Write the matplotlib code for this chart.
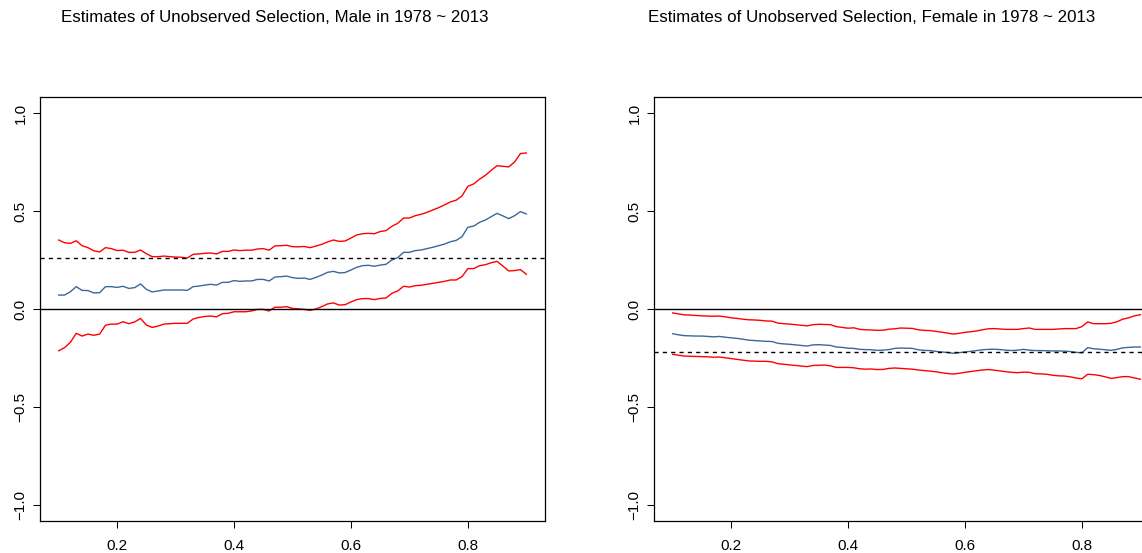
import numpy as np
import matplotlib
matplotlib.use('Agg')
from matplotlib import pyplot as plt

plt.rcParams['font.family'] = ['Liberation Sans', 'DejaVu Sans']

# quantiles 0.10 ... 0.90
q = np.linspace(0.10, 0.90, 81)

# male: upper bound, estimate, lower bound
male_hi = [0.352, 0.338, 0.335, 0.348, 0.323, 0.313, 0.297, 0.291, 0.313, 0.308,
           0.298, 0.300, 0.289, 0.289, 0.301, 0.282, 0.267, 0.267, 0.270, 0.267,
           0.265, 0.264, 0.260, 0.279, 0.281, 0.284, 0.286, 0.281, 0.294, 0.294,
           0.301, 0.298, 0.300, 0.300, 0.306, 0.308, 0.300, 0.322, 0.323, 0.325,
           0.318, 0.317, 0.319, 0.313, 0.321, 0.330, 0.342, 0.352, 0.345, 0.347,
           0.362, 0.378, 0.384, 0.386, 0.384, 0.395, 0.400, 0.422, 0.437, 0.464,
           0.464, 0.476, 0.483, 0.493, 0.505, 0.517, 0.531, 0.546, 0.555, 0.577,
           0.626, 0.638, 0.662, 0.682, 0.708, 0.731, 0.728, 0.725, 0.750, 0.793,
           0.796]
male_est = [0.071, 0.071, 0.088, 0.114, 0.095, 0.094, 0.082, 0.083, 0.114, 0.114,
            0.110, 0.116, 0.105, 0.109, 0.128, 0.100, 0.087, 0.092, 0.097, 0.097,
            0.097, 0.097, 0.095, 0.114, 0.117, 0.122, 0.126, 0.122, 0.136, 0.136,
            0.145, 0.141, 0.143, 0.143, 0.151, 0.151, 0.143, 0.163, 0.165, 0.168,
            0.160, 0.156, 0.158, 0.151, 0.161, 0.173, 0.187, 0.192, 0.184, 0.186,
            0.199, 0.213, 0.221, 0.223, 0.218, 0.224, 0.228, 0.250, 0.262, 0.289,
            0.289, 0.298, 0.301, 0.308, 0.315, 0.323, 0.331, 0.343, 0.350, 0.369,
            0.417, 0.423, 0.442, 0.454, 0.471, 0.488, 0.475, 0.461, 0.476, 0.497,
            0.485]
male_lo = [-0.213, -0.197, -0.170, -0.124, -0.138, -0.128, -0.134, -0.128, -0.083, -0.077,
           -0.077, -0.065, -0.075, -0.066, -0.048, -0.082, -0.094, -0.087, -0.077, -0.075,
           -0.073, -0.073, -0.073, -0.051, -0.043, -0.038, -0.036, -0.040, -0.024, -0.022,
           -0.014, -0.014, -0.014, -0.010, -0.002, -0.002, -0.010, 0.009, 0.009, 0.012,
           0.003, 0.001, -0.002, -0.007, 0.000, 0.012, 0.026, 0.031, 0.020, 0.022,
           0.036, 0.048, 0.053, 0.053, 0.048, 0.054, 0.056, 0.080, 0.092, 0.116,
           0.112, 0.119, 0.121, 0.126, 0.131, 0.136, 0.141, 0.148, 0.148, 0.165,
           0.206, 0.206, 0.221, 0.226, 0.236, 0.243, 0.219, 0.194, 0.196, 0.201,
           0.177]
male_mean = 0.262

# female
female_hi = [-0.020, -0.025, -0.030, -0.031, -0.033, -0.035, -0.036, -0.037, -0.036, -0.040,
             -0.045, -0.048, -0.052, -0.055, -0.056, -0.058, -0.061, -0.062, -0.072, -0.075,
             -0.077, -0.080, -0.083, -0.086, -0.080, -0.078, -0.079, -0.080, -0.090, -0.094,
             -0.098, -0.096, -0.104, -0.106, -0.107, -0.109, -0.108, -0.103, -0.101, -0.097,
             -0.098, -0.099, -0.106, -0.109, -0.110, -0.114, -0.118, -0.123, -0.128, -0.124,
             -0.119, -0.116, -0.112, -0.106, -0.101, -0.100, -0.102, -0.104, -0.104, -0.104,
             -0.100, -0.097, -0.104, -0.104, -0.104, -0.104, -0.102, -0.100, -0.100, -0.100,
             -0.090, -0.066, -0.075, -0.075, -0.075, -0.073, -0.065, -0.052, -0.045, -0.035,
             -0.029]
female_est = [-0.126, -0.132, -0.136, -0.137, -0.138, -0.138, -0.140, -0.142, -0.140, -0.144,
              -0.147, -0.150, -0.154, -0.159, -0.161, -0.163, -0.165, -0.166, -0.175, -0.178,
              -0.180, -0.183, -0.186, -0.189, -0.183, -0.182, -0.184, -0.186, -0.194, -0.196,
              -0.200, -0.201, -0.206, -0.207, -0.208, -0.211, -0.210, -0.207, -0.201, -0.199,
              -0.200, -0.201, -0.208, -0.211, -0.212, -0.216, -0.219, -0.222, -0.226, -0.223,
              -0.219, -0.216, -0.212, -0.208, -0.206, -0.205, -0.207, -0.210, -0.212, -0.210,
              -0.206, -0.210, -0.212, -0.212, -0.213, -0.214, -0.214, -0.215, -0.217, -0.221,
              -0.224, -0.197, -0.203, -0.205, -0.208, -0.211, -0.206, -0.198, -0.196, -0.194,
              -0.194]
female_lo = [-0.231, -0.236, -0.240, -0.241, -0.242, -0.243, -0.244, -0.246, -0.245, -0.249,
             -0.253, -0.257, -0.261, -0.265, -0.266, -0.267, -0.267, -0.270, -0.279, -0.282,
             -0.285, -0.288, -0.291, -0.294, -0.288, -0.287, -0.286, -0.290, -0.298, -0.298,
             -0.298, -0.300, -0.305, -0.307, -0.306, -0.309, -0.308, -0.303, -0.301, -0.303,
             -0.305, -0.307, -0.311, -0.314, -0.317, -0.320, -0.325, -0.329, -0.332, -0.328,
             -0.323, -0.319, -0.315, -0.311, -0.309, -0.312, -0.316, -0.320, -0.323, -0.325,
             -0.322, -0.323, -0.330, -0.331, -0.333, -0.338, -0.341, -0.342, -0.346, -0.352,
             -0.356, -0.333, -0.335, -0.339, -0.346, -0.354, -0.350, -0.345, -0.345, -0.352,
             -0.358]
female_mean = -0.217

titles = ["Estimates of Unobserved Selection, Male in 1978 ~ 2013",
          "Estimates of Unobserved Selection, Female in 1978 ~ 2013"]
ytick_labels = ['\u22121.0', '\u22120.5', '0.0', '0.5', '1.0']

W, H = 1142, 553
fig = plt.figure(figsize=(W / 100, H / 100), dpi=100)

panels = [(40, male_hi, male_est, male_lo, male_mean, 275),
          (654, female_hi, female_est, female_lo, female_mean, 872)]

for (left, hi, est, lo, mean, tx), title in zip(panels, titles):
    ax = fig.add_axes([left / W, (H - 520.7) / H, 505 / W, (520.7 - 97.3) / H])
    ax.plot(q, hi, color='red', lw=1.0)
    ax.plot(q, est, color='#3b6896', lw=1.0)
    ax.plot(q, lo, color='red', lw=1.0)
    ax.axhline(0, color='black', lw=1.0)
    ax.axhline(mean, color='black', lw=1.0, ls=(0, (3, 3)))
    ax.set_xlim(0.068, 0.932)
    ax.set_ylim(-1.08, 1.08)
    ax.set_xticks([0.2, 0.4, 0.6, 0.8])
    ax.set_yticks([-1.0, -0.5, 0.0, 0.5, 1.0])
    ax.set_yticklabels(ytick_labels, rotation=90, va='center')
    ax.tick_params(direction='out', length=5, width=0.75, labelsize=11, color='black')
    ax.tick_params(axis='x', pad=8)
    ax.tick_params(axis='y', pad=4)
    for s in ax.spines.values():
        s.set_linewidth(0.9)
    fig.text(tx / W, 1 - 18 / H, title, ha='center', va='center', fontsize=12.2)

fig.savefig('out.png', dpi=100)
